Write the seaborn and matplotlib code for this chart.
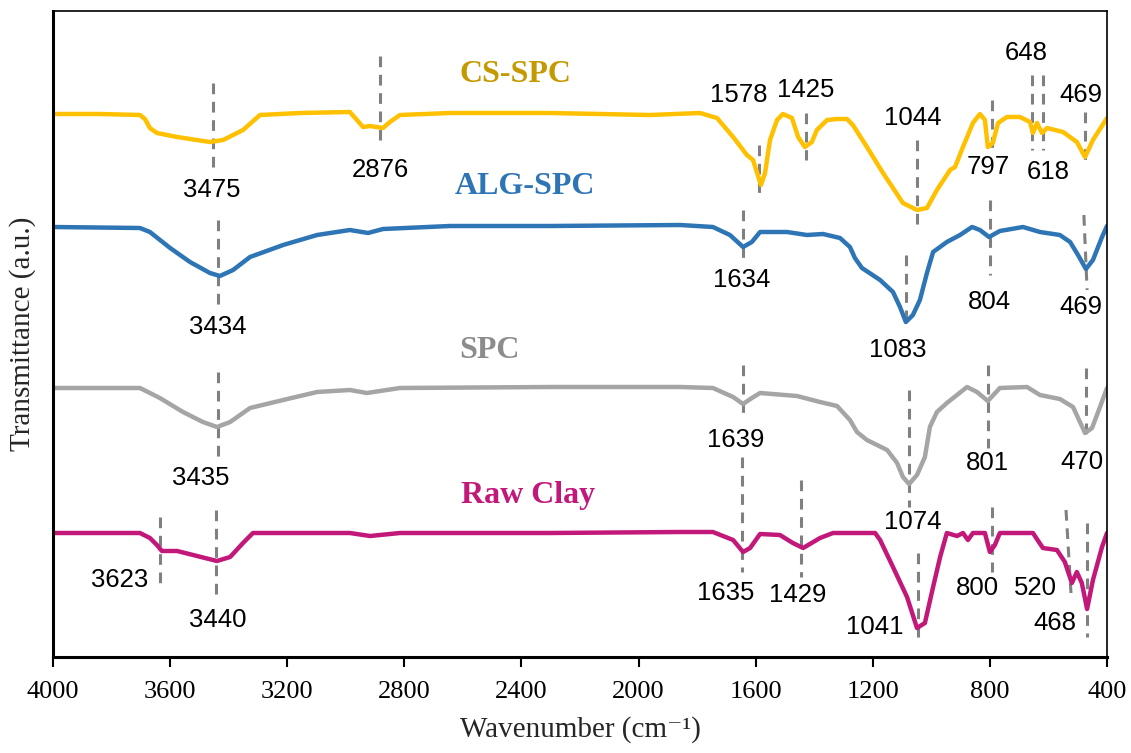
import matplotlib
matplotlib.use("Agg")
import matplotlib.pyplot as plt
import seaborn as sns
import pandas as pd

# ---- data (wavenumber in cm-1, transmittance in a.u., vertically offset) ----
cs_wn = [4000, 3840, 3703, 3686, 3669, 3645, 3576, 3464, 3419, 3351, 3293, 3156, 2986, 2941, 2917,
         2873, 2849, 2815, 2644, 2302, 1961, 1790, 1732, 1677, 1630, 1609, 1582, 1568, 1551,
         1527, 1507, 1476, 1455, 1432, 1408, 1391, 1356, 1322, 1288, 1268, 1220, 1165, 1097,
         1049, 1015, 981, 936, 919, 892, 858, 834, 817, 807, 790, 772, 742, 697, 663, 653,
         639, 622, 605, 550, 503, 475, 448, 400]
cs_t = [586, 586, 585, 581, 572, 567, 563, 558, 560, 570, 585, 587, 588, 573, 574,
        572, 578, 585, 587, 587, 585, 587, 582, 563, 545, 540, 515, 527, 560,
        580, 586, 582, 563, 553, 558, 570, 580, 581, 581, 575, 553, 527, 497,
        490, 492, 510, 530, 533, 553, 577, 586, 580, 553, 557, 577, 583, 583, 578, 567,
        577, 567, 572, 568, 558, 543, 560, 582]

alg_wn = [4000, 3703, 3669, 3600, 3532, 3464, 3430, 3385, 3327, 3214, 3098, 2986, 2924, 2873,
          2644, 2302, 1858, 1746, 1688, 1643, 1613, 1585, 1493, 1425, 1370, 1312, 1278, 1261,
          1237, 1175, 1131, 1107, 1087, 1063, 1039, 1015, 994, 947, 902, 861, 834, 803, 766,
          687, 629, 561, 526, 499, 472, 448, 417, 400]
alg_t = [473, 472, 468, 452, 438, 427, 424, 430, 443, 455, 465, 470, 467, 471,
         474, 474, 475, 473, 465, 453, 458, 468, 468, 465, 466, 462, 453, 442,
         432, 420, 408, 393, 378, 385, 400, 427, 448, 458, 465, 473, 470, 463, 469,
         473, 468, 465, 458, 445, 431, 440, 463, 474]

spc_wn = [4000, 3703, 3635, 3556, 3488, 3440, 3395, 3327, 3214, 3098, 2986, 2928, 2815, 2302,
          1858, 1746, 1677, 1643, 1613, 1585, 1459, 1380, 1322, 1278, 1254, 1220, 1151, 1117,
          1097, 1076, 1049, 1022, 1005, 981, 947, 878, 844, 807, 766, 673, 629, 561, 516,
          475, 451, 424, 400]
spc_t = [312, 312, 302, 288, 278, 273, 278, 292, 300, 308, 310, 307, 312, 313,
         313, 312, 303, 296, 302, 307, 304, 298, 294, 280, 268, 260, 250, 237,
         223, 216, 225, 243, 273, 288, 297, 313, 308, 299, 312, 313, 305, 301, 293,
         267, 272, 293, 312]

raw_wn = [4000, 3703, 3669, 3645, 3628, 3576, 3508, 3440, 3395, 3351, 3317, 2986, 2917, 2815,
          2302, 1858, 1746, 1677, 1643, 1619, 1585, 1517, 1473, 1438, 1380, 1336, 1192, 1175,
          1131, 1083, 1049, 1022, 994, 970, 947, 912, 892, 875, 858, 817, 800, 783, 766,
          653, 619, 571, 544, 520, 503, 486, 468, 448, 417, 400]
raw_t = [167, 167, 162, 155, 149, 149, 144, 139, 143, 157, 167, 167, 164, 167,
         167, 168, 168, 160, 148, 152, 166, 165, 157, 152, 162, 167, 167, 160,
         133, 103, 72, 77, 113, 143, 167, 164, 167, 160, 167, 167, 148, 155, 167,
         167, 152, 150, 138, 117, 128, 117, 91, 120, 153, 167]

series_names = ["CS-SPC", "ALG-SPC", "SPC", "Raw Clay"]
line_colors = ["#FFC000", "#2E75B6", "#A5A5A5", "#C2187A"]
text_colors = ["#C49A00", "#2E75B6", "#8C8C8C", "#C2187A"]
name_wn = [2422, 2388, 2511, 2378]
name_t = [625, 513, 349, 205]

# peak annotations: label, line top (wn, t), line bottom (wn, t), text position (wn, t)
peak_labels = ["3475", "2876", "1578", "1425", "1044", "797", "648", "618", "469",
               "3434", "1634", "1083", "804", "469",
               "3435", "1639", "1074", "801", "470",
               "3623", "3440", "1635", "1429", "1041", "800", "520", "468"]
peak_line_wn_top = [3453, 2883, 1589, 1428, 1049, 793, 656, 619, 475,
                    3436, 1643, 1087, 800, 479,
                    3436, 1643, 1076, 807, 472,
                    3635, 3443, 1647, 1445, 1046, 793, 540, 468]
peak_line_wn_bot = [3453, 2883, 1589, 1428, 1049, 793, 656, 619, 475,
                    3436, 1643, 1087, 800, 468,
                    3436, 1643, 1076, 807, 472,
                    3635, 3443, 1647, 1445, 1046, 793, 523, 468]
peak_line_top = [617, 644, 555, 587, 560, 600, 625, 625, 588,
                 480, 490, 445, 500, 485,
                 328, 335, 310, 335, 332,
                 183, 190, 243, 220, 147, 193, 190, 177]
peak_line_bot = [527, 553, 507, 540, 470, 547, 550, 550, 535,
                 390, 442, 373, 425, 410,
                 240, 287, 193, 252, 265,
                 113, 100, 128, 123, 58, 128, 107, 63]
peak_text_wn = [3457, 2883, 1657, 1428, 1063, 807, 677, 602, 489,
                3436, 1647, 1114, 803, 489,
                3494, 1667, 1063, 810, 485,
                3771, 3436, 1701, 1455, 1192, 841, 643, 578]
peak_text_t = [510, 530, 605, 610, 582, 533, 647, 528, 605,
               373, 420, 350, 398, 393,
               222, 260, 178, 237, 238,
               120, 80, 107, 105, 73, 112, 112, 77]

x_ticks = [4000, 3600, 3200, 2800, 2400, 2000, 1600, 1200, 800, 400]

# ---- build long table ----
frames = []
for name, wn, t in zip(series_names, [cs_wn, alg_wn, spc_wn, raw_wn], [cs_t, alg_t, spc_t, raw_t]):
    frames.append(pd.DataFrame({"wn": wn, "t": t, "sample": name}))
df = pd.concat(frames, ignore_index=True)

sns.set_style("white")
plt.rcParams["font.family"] = ["Liberation Serif", "DejaVu Serif"]

fig = plt.figure(figsize=(11.31, 7.53), dpi=100)
ax = fig.add_axes([53 / 1131, 1 - 657 / 753, (1107 - 53) / 1131, (657 - 11) / 753])

sns.lineplot(data=df, x="wn", y="t", hue="sample", palette=dict(zip(series_names, line_colors)),
             estimator=None, sort=False, linewidth=3.2, legend=False, ax=ax)
for ln in ax.get_lines():
    ln.set_solid_joinstyle("round")
    ln.set_solid_capstyle("round")

# dashed peak markers
for i, lab in enumerate(peak_labels):
    ax.plot([peak_line_wn_top[i], peak_line_wn_bot[i]], [peak_line_top[i], peak_line_bot[i]],
            color="#808080", linestyle=(0, (3.5, 2.5)), linewidth=2.2, zorder=1)
    ax.text(peak_text_wn[i], peak_text_t[i], lab, ha="center", va="center",
            fontsize=18.5, family=["Liberation Sans", "DejaVu Sans"], color="black")

for name, c, wn, t in zip(series_names, text_colors, name_wn, name_t):
    ax.text(wn, t, name, ha="center", va="center", fontsize=23, fontweight="bold",
            color=c, family=["Liberation Serif", "DejaVu Serif"])

ax.set_xlim(4000, 400)
ax.set_ylim(43, 689)
ax.set_xticks(x_ticks)
ax.set_xticklabels([str(v) for v in x_ticks])
ax.set_yticks([])
ax.tick_params(axis="x", direction="out", length=7, width=1.5, labelsize=19, pad=10,
               bottom=True, colors="black")

for side in ["left", "bottom"]:
    ax.spines[side].set_linewidth(2.2)
    ax.spines[side].set_color("black")
for side in ["top", "right"]:
    ax.spines[side].set_linewidth(1.2)
    ax.spines[side].set_color("black")

ax.set_xlabel("Wavenumber (cm\u207b\u00b9)", fontsize=21, labelpad=10)
ax.set_ylabel("Transmittance (a.u.)", fontsize=21, labelpad=12)

fig.savefig("out.png", dpi=100)
